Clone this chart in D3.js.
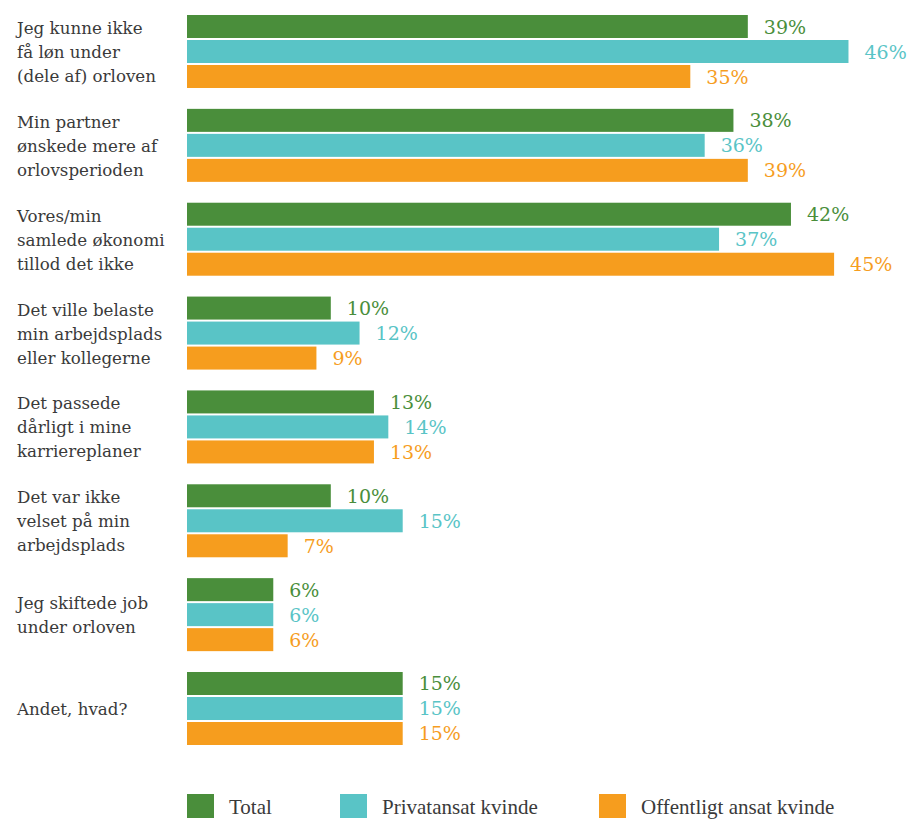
<!DOCTYPE html>
<html>
<head>
<meta charset="utf-8">
<script src="https://cdn.jsdelivr.net/npm/d3@7/dist/d3.min.js"></script>
<style>
  html, body { margin: 0; padding: 0; background: #ffffff; }
  svg { display: block; }
</style>
</head>
<body>
<svg id="chart" width="911" height="819"></svg>
<script>
// Reasons for not taking (more) leave, share of respondents (%)
const categories = [
  ["Jeg kunne ikke", "få løn under", "(dele af) orloven"],
  ["Min partner", "ønskede mere af", "orlovsperioden"],
  ["Vores/min", "samlede økonomi", "tillod det ikke"],
  ["Det ville belaste", "min arbejdsplads", "eller kollegerne"],
  ["Det passede", "dårligt i mine", "karriereplaner"],
  ["Det var ikke", "velset på min", "arbejdsplads"],
  ["Jeg skiftede job", "under orloven"],
  ["Andet, hvad?"]
];
const seriesNames = ["Total", "Privatansat kvinde", "Offentligt ansat kvinde"];
const total        = [39, 38, 42, 10, 13, 10, 6, 15];
const privatansat  = [46, 36, 37, 12, 14, 15, 6, 15];
const offentligt   = [35, 39, 45,  9, 13,  7, 6, 15];
const colors = ["#4a8e3b", "#59c4c6", "#f69d1e"];

const seriesValues = [total, privatansat, offentligt];
const svg = d3.select("#chart");
const textColor = "#3a3a3a";
const serif = "'DejaVu Serif', serif";

const x = d3.scaleLinear().domain([0, 50]).range([187, 906]);
const groupKeys = categories.map((c, i) => i);
const y0 = d3.scaleBand().domain(groupKeys).range([15, 745]).paddingInner(0.2222).paddingOuter(0);
const y1 = d3.scaleBand().domain(d3.range(seriesNames.length)).range([0, y0.bandwidth()]).paddingInner(0.08).paddingOuter(0);

const groups = svg.append("g").selectAll("g")
  .data(groupKeys)
  .join("g")
  .attr("transform", i => `translate(0,${y0(i)})`);

// Bars
groups.selectAll("rect")
  .data(i => seriesValues.map((vals, s) => ({ s, v: vals[i] })))
  .join("rect")
  .attr("x", x(0))
  .attr("y", d => y1(d.s))
  .attr("width", d => x(d.v) - x(0))
  .attr("height", y1.bandwidth())
  .attr("fill", d => colors[d.s]);

// Value labels
groups.selectAll("text.val")
  .data(i => seriesValues.map((vals, s) => ({ s, v: vals[i] })))
  .join("text")
  .attr("class", "val")
  .attr("x", d => x(d.v) + 16)
  .attr("y", d => y1(d.s) + y1.bandwidth() / 2 + 7)
  .attr("font-family", serif)
  .attr("font-size", 19)
  .attr("fill", d => colors[d.s])
  .text(d => d.v + "%");

// Category labels (multi-line, centred on the group)
const lineH = 24;
groups.append("text")
  .attr("font-family", serif)
  .attr("font-size", 16.7)
  .attr("fill", textColor)
  .each(function(i) {
    const lines = categories[i];
    const mid = y0.bandwidth() / 2 + 6.5;
    const start = mid - (lines.length - 1) * lineH / 2;
    d3.select(this).selectAll("tspan")
      .data(lines)
      .join("tspan")
      .attr("x", 17)
      .attr("y", (d, k) => start + k * lineH)
      .text(d => d);
  });

// Legend
const legendX = [187, 340, 599];
const legend = svg.append("g").selectAll("g")
  .data(seriesNames)
  .join("g")
  .attr("transform", (d, i) => `translate(${legendX[i]},794)`);
legend.append("rect")
  .attr("width", 27)
  .attr("height", 24)
  .attr("fill", (d, i) => colors[i]);
legend.append("text")
  .attr("x", 42)
  .attr("y", 20)
  .attr("font-family", "'Liberation Serif', serif")
  .attr("font-size", 21)
  .attr("fill", textColor)
  .text(d => d);
</script>
</body>
</html>
